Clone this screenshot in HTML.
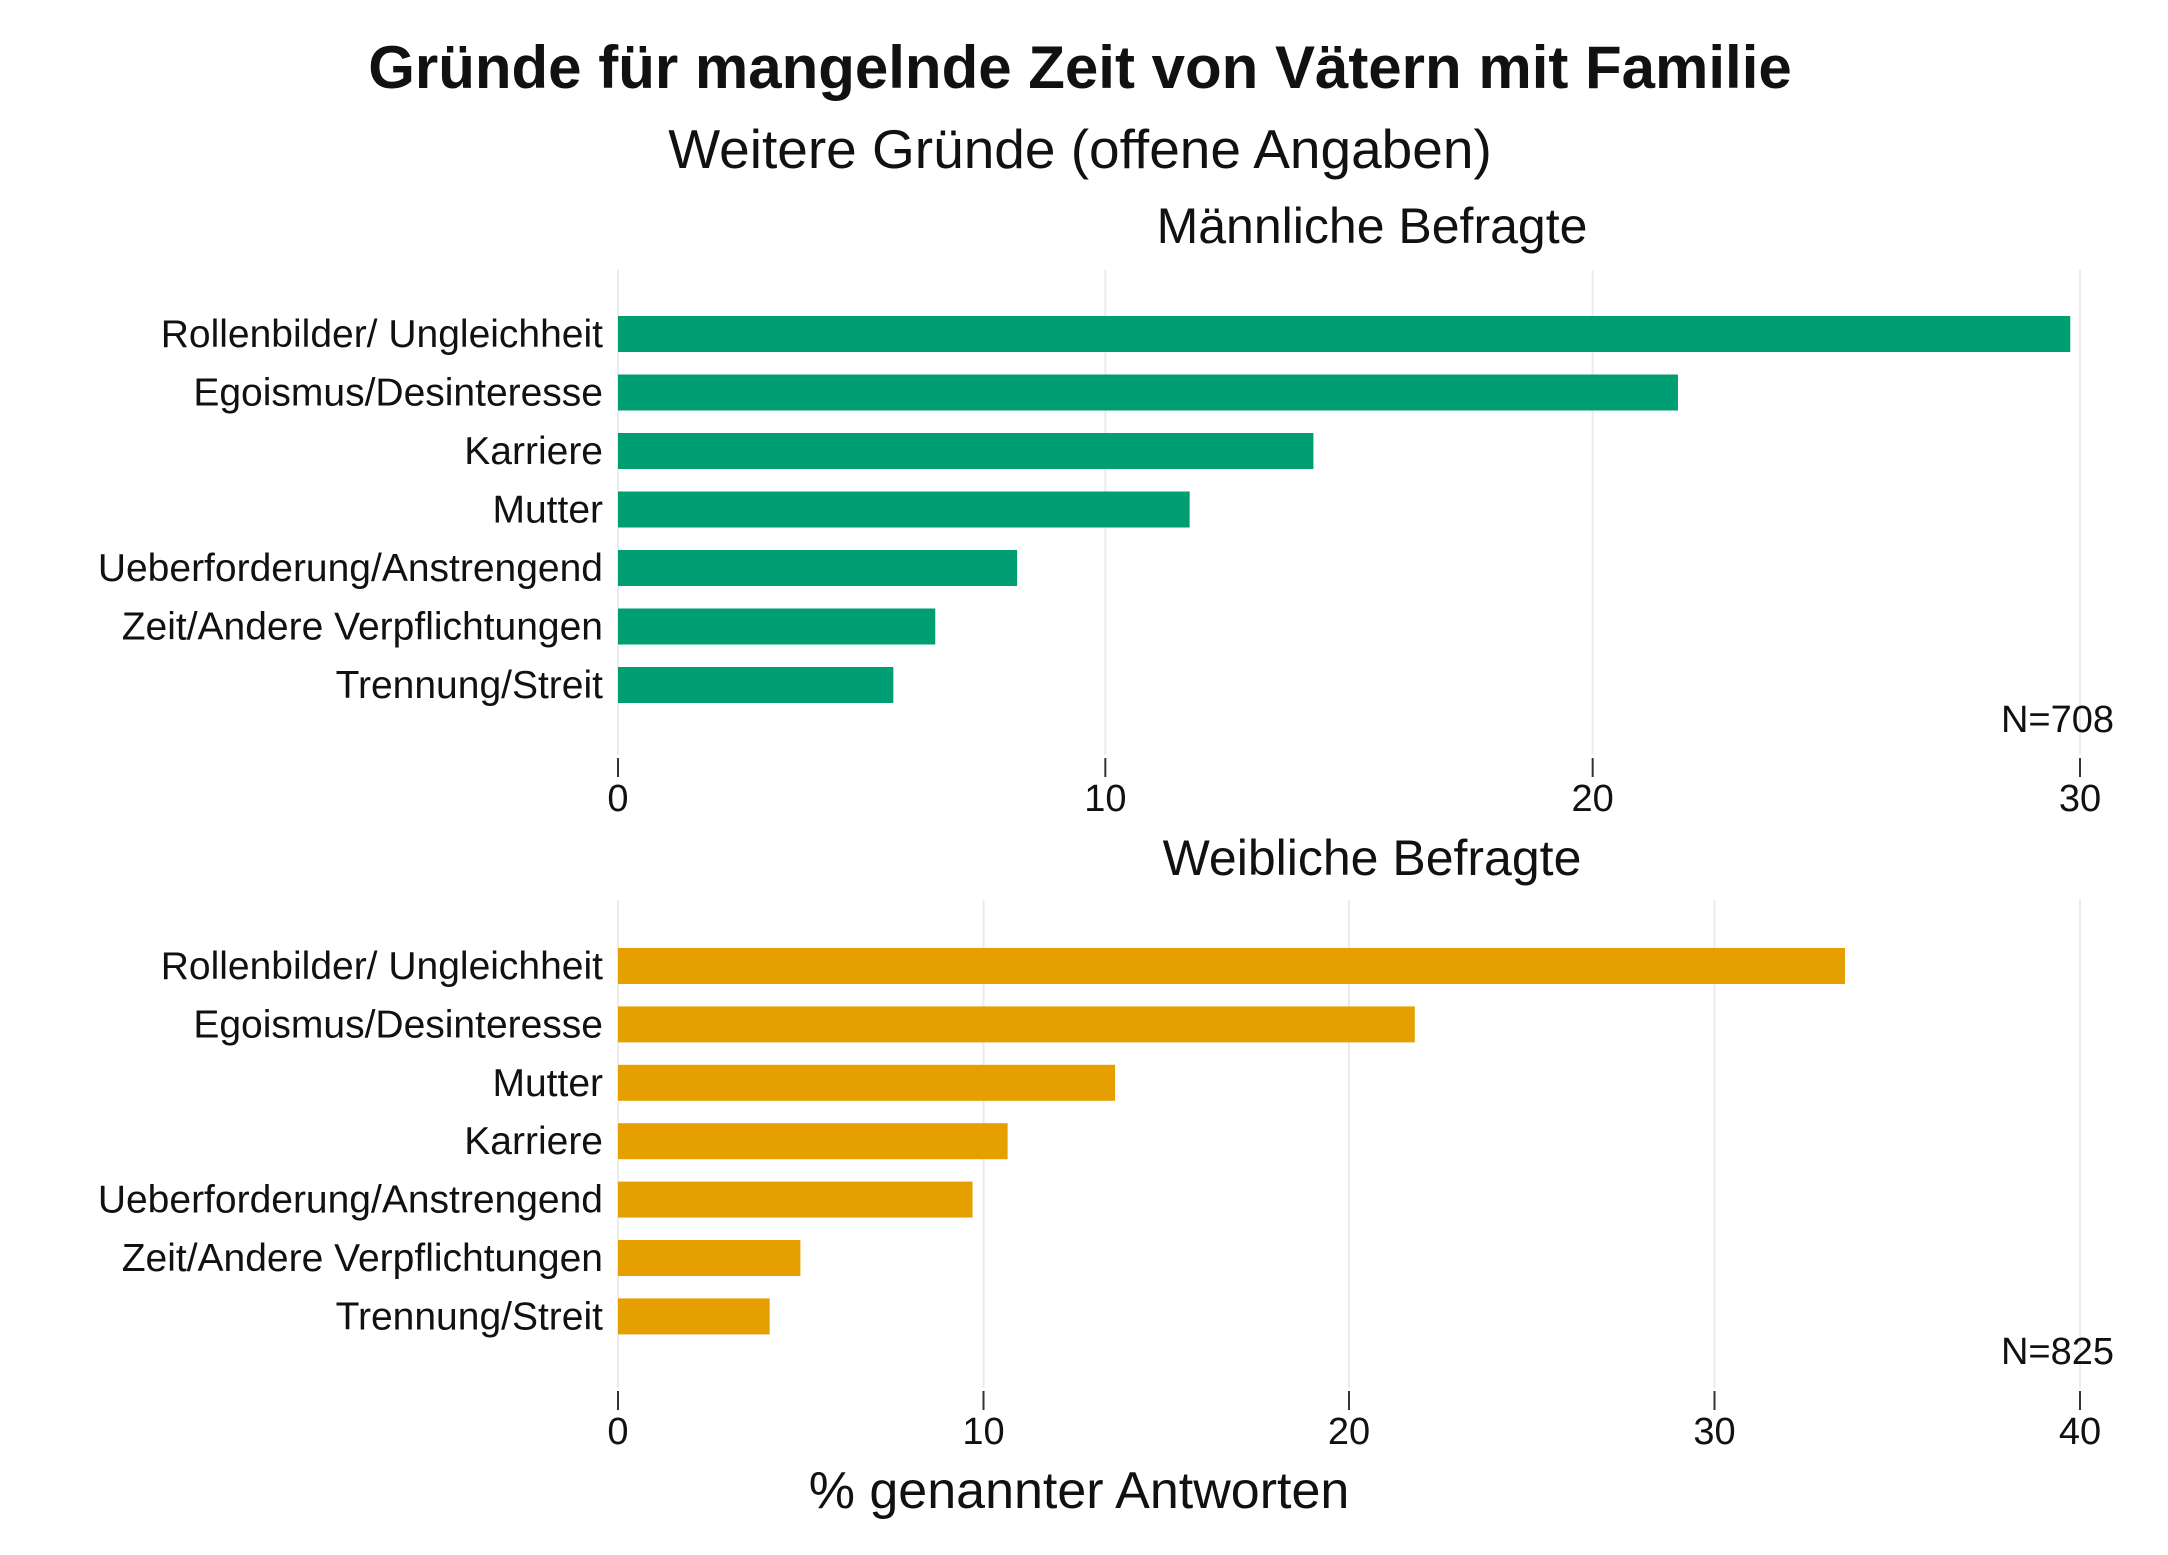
<!DOCTYPE html>
<html><head><meta charset="utf-8"><style>
body{margin:0;background:#fff}
svg text{font-family:"Liberation Sans",sans-serif;fill:#111}
</style></head><body>
<svg width="2168" height="1550" xmlns="http://www.w3.org/2000/svg" id="chart">
<text x="1080" y="88" text-anchor="middle" font-size="60" font-weight="bold">Gründe für mangelnde Zeit von Vätern mit Familie</text>
<text x="1080" y="168" text-anchor="middle" font-size="55">Weitere Gründe (offene Angaben)</text>
<text x="1079" y="1508" text-anchor="middle" font-size="52">% genannter Antworten</text>
</svg>
<script>
const maleCategories=["Rollenbilder/ Ungleichheit","Egoismus/Desinteresse","Karriere","Mutter","Ueberforderung/Anstrengend","Zeit/Andere Verpflichtungen","Trennung/Streit"];
const maleValues=[29.8,21.75,14.27,11.73,8.19,6.51,5.65];
const maleTicks=[0,10,20,30];
const femaleCategories=["Rollenbilder/ Ungleichheit","Egoismus/Desinteresse","Mutter","Karriere","Ueberforderung/Anstrengend","Zeit/Andere Verpflichtungen","Trennung/Streit"];
const femaleValues=[33.57,21.8,13.6,10.66,9.7,4.99,4.15];
const femaleTicks=[0,10,20,30,40];
const svg=document.getElementById('chart');
const NS='http://www.w3.org/2000/svg';
function mk(tag,attrs,text){const e=document.createElementNS(NS,tag);for(const k in attrs)e.setAttribute(k,attrs[k]);if(text!==undefined)e.textContent=text;svg.appendChild(e);return e;}
function panel(o){
  const x0=618,x1=2080;
  const xs=v=>x0+(v-o.min)/(o.max-o.min)*(x1-x0);
  const ys=i=>o.firstY+i*o.step;
  let t=mk('text',{x:1372,y:o.titleY,'text-anchor':'middle','font-size':50},o.title);
  
  
  o.ticks.forEach(v=>{
    let g=mk('line',{x1:xs(v),x2:xs(v),y1:o.gridTop,y2:o.gridBot,stroke:'#ebebeb','stroke-width':2});
    
    
    let tk=mk('line',{x1:xs(v),x2:xs(v),y1:o.gridBot+3,y2:o.gridBot+22,stroke:'#333','stroke-width':2});
    
    
    let l=mk('text',{x:xs(v),y:o.gridBot+56,'text-anchor':'middle','font-size':38},String(v));
    
    
  });
  o.cats.forEach((c,i)=>{
    let b=mk('rect',{x:xs(0),y:ys(i)-18,width:xs(o.vals[i])-xs(0),height:36,fill:o.color});
    
    
    let l=mk('text',{x:603,y:ys(i)+13,'text-anchor':'end','font-size':39},c);
    
    
  });
  let n=mk('text',{x:2114,y:o.nY,'text-anchor':'end','font-size':38},o.n);
  
  
}
panel({key:'male',title:'Männliche Befragte',titleY:243,min:0,max:30,ticks:maleTicks,cats:maleCategories,vals:maleValues,color:'#009E73',firstY:334,step:58.5,gridTop:270,gridBot:755,nY:732,n:'N=708'});
panel({key:'female',title:'Weibliche Befragte',titleY:875,min:0,max:40,ticks:femaleTicks,cats:femaleCategories,vals:femaleValues,color:'#E69F00',firstY:966,step:58.4,gridTop:900,gridBot:1388,nY:1364,n:'N=825'});
</script>
</body></html>
